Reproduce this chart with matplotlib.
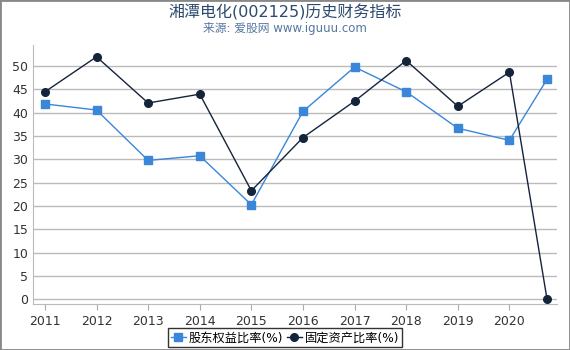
import matplotlib
matplotlib.use("Agg")
import matplotlib.pyplot as plt

plt.rcParams['font.family'] = ['DejaVu Sans', 'Noto Sans CJK SC']

years = [2011, 2012, 2013, 2014, 2015, 2016, 2017, 2018, 2019, 2020, 2020.73]
tick_years = [2011, 2012, 2013, 2014, 2015, 2016, 2017, 2018, 2019, 2020]
equity_ratio = [41.9, 40.6, 29.8, 30.8, 20.3, 40.3, 49.8, 44.5, 36.7, 34.1, 47.2]
fixed_asset_ratio = [44.5, 52.0, 42.1, 44.0, 23.3, 34.7, 42.5, 51.2, 41.4, 48.7, 0.0]

fig = plt.figure(figsize=(5.7, 3.5), dpi=100)
ax = fig.add_axes([0.058, 0.131, 0.919, 0.74])

ax.plot(years, equity_ratio, color='#3a86d9', marker='s', markersize=5.5,
        linewidth=1, label='股东权益比率(%)', zorder=3)
ax.plot(years, fixed_asset_ratio, color='#14243a', marker='o', markersize=5.5,
        linewidth=1, label='固定资产比率(%)', zorder=3)

ax.set_xlim(2010.77, 2020.92)
ax.set_ylim(-1, 54.5)
ax.set_xticks(tick_years)
ax.set_yticks(range(0, 55, 5))
ax.tick_params(axis='both', labelsize=9, colors='#333333', length=4)
ax.tick_params(axis='x', color='#aaaaaa')
ax.tick_params(axis='y', length=0)
ax.grid(axis='y', color='#bbbbbb', linewidth=1)
ax.set_axisbelow(True)
for s in ['top', 'right']:
    ax.spines[s].set_visible(False)
ax.spines['left'].set_color('#bbbbbb')
ax.spines['bottom'].set_color('#bbbbbb')

fig.text(0.5, 0.965, '湘潭电化(002125)历史财务指标', ha='center', va='center',
         fontsize=11.5, color='#2c4a6e')
fig.text(0.5, 0.918, '来源: 爱股网 www.iguuu.com', ha='center', va='center',
         fontsize=8.5, color='#5577a0')

leg = ax.legend(loc='center', bbox_to_anchor=(0.481, -0.13), ncol=2, fontsize=8.8,
                frameon=True, fancybox=False, handlelength=1.2,
                handletextpad=0.25, columnspacing=0.3, borderpad=0.25,
                borderaxespad=0)
leg.get_frame().set_edgecolor('black')
leg.get_frame().set_linewidth(1)

fig.patches.append(plt.Rectangle((0, 0), 1, 1, transform=fig.transFigure,
                                 fill=False, edgecolor='#888888', linewidth=2))

fig.savefig('out.png', dpi=100)
